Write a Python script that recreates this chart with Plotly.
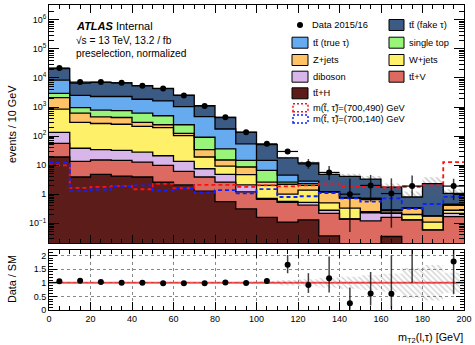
import numpy as np
import plotly.graph_objects as go

# ---------------- data ----------------
bin_edges = list(range(0, 210, 10))            # m_T2 bins, GeV
bin_centers = [e + 5 for e in bin_edges[:-1]]

# per-process yields (events / 10 GeV), stacked bottom -> top
ttH      = [19, 3.9, 4.8, 4.2, 3.9, 2.6, 2.1, 1.27, 0.55, 0.31, 0.16, 0.11, 0.13, 0.037, 0.01, 0.01, 0.035, 0.005, 0.005, 0.005]
ttV      = [37, 9.5, 10.2, 10.3, 8.8, 7.2, 4.0, 2.63, 2.05, 0.89, 0.50, 0.41, 0.29, 0.183, 0.13, 0.11, 0.125, 0.125, 0.054, 0.165]
diboson  = [78, 24.6, 19, 17.5, 15.3, 11.2, 7.3, 3.6, 2.2, 0.9, 0.06, 0.04, 0.10, 0.06, 0.0, 0.11, 0.06, 0.0, 0.0, 0.05]
wjets    = [706, 257, 236, 223, 187, 174, 89.6, 11.5, 4.5, 2.6, 1.28, 0.44, 0.85, 0.22, 0.19, 0.02, 0.02, 0.07, 0.051, 0.06]
zjets    = [1260, 325, 190, 180, 80, 50, 21, 15, 5.7, 3.9, 0.6, 1.2, 0.63, 0.7, 0.42, 0.40, 0.04, 0.13, 0.07, 0.14]
singletop= [850, 330, 320, 315, 325, 255, 121, 57, 21, 5.9, 4.0, 0.4, 0.3, 0.0, 0.0, 0.06, 0.0, 0.0, 0.0, 0.0]
tt_true  = [5450, 1550, 1520, 1550, 1230, 1120, 785, 379, 139, 39.5, 7.9, 1.9, 0.5, 0.0, 0.0, 0.0, 0.0, 0.0, 0.0, 0.03]
tt_fake  = [12400, 4200, 4700, 4500, 3550, 2770, 1520, 640, 260, 81, 36.5, 13.3, 9.2, 3.6, 3.35, 2.59, 1.47, 0.47, 2.12, 0.62]

# relative MC statistical uncertainty
mc_rel_unc = [0.01, 0.01, 0.01, 0.01, 0.01, 0.015, 0.015, 0.02, 0.03, 0.04, 0.06, 0.10, 0.13, 0.18, 0.22, 0.27, 0.33, 0.55, 0.65, 0.37]

# data
data        = [22000, 7200, 7200, 6800, 5400, 4300, 2500, 1090, 440, 134, 54, 29.5, 11, 5.6, 1.0, 2.0, 1.05, 1.9, None, 1.9]
data_err_up = [150, 85, 85, 85, 78, 66, 50, 33, 21, 7, 5, 6.4, 5.2, 3.8, 2.4, 2.6, 2.45, 2.5, None, 1.5]
data_err_dn = [150, 85, 85, 85, 78, 66, 50, 33, 21, 7, 5, 5.5, 3.5, 2.5, 0.95, 1.45, 0.98, 1.1, None, 1.28]

# signal benchmarks
sig_700_490 = [9.8, 1.64, 1.77, 1.9, 1.48, 2.25, 1.6, 2.1, 2.1, 1.77, 2.0, 1.87, 2.0, 2.3, 1.87, 1.8, 1.7, 1.8, 2.0, 12.7]
sig_700_140 = [12, 1.27, 1.45, 1.9, 2.0, 1.34, 1.6, 1.14, 1.37, 1.06, 1.5, 0.8, 0.85, 1.1, 0.72, 0.55, 0.72, 0.31, 0.46, 0.81]

y_tick_vals = [1e-1, 1, 10, 1e2, 1e3, 1e4, 1e5, 1e6]
y_tick_text = ["10<sup>−1</sup>", "1", "10", "10<sup>2</sup>", "10<sup>3</sup>", "10<sup>4</sup>", "10<sup>5</sup>", "10<sup>6</sup>"]
ratio_tick_vals = [0, 0.5, 1, 1.5, 2]
ratio_tick_text = ["0", "0.5", "1", "1.5", "2"]

samples = [
    ("t\u0074\u0304+H", ttH, "#5B1C1A"),
    ("t\u0074\u0304+V", ttV, "#DC6A60"),
    ("diboson", diboson, "#D8B6EA"),
    ("W+jets", wjets, "#FFF06A"),
    ("Z+jets", zjets, "#FFC266"),
    ("single top", singletop, "#99F57A"),
    ("t\u0074\u0304 (true \u03c4)", tt_true, "#66AAF0"),
    ("t\u0074\u0304 (fake \u03c4)", tt_fake, "#3C5B84"),
]

FONT = "Liberation Sans, Arial, sans-serif"
YMIN_LOG, YMAX_LOG = -1.68, 6.51

def step(vals):
    v = [np.nan if x is None else x for x in vals]
    return list(v) + [v[-1]]

fig = go.Figure()

# ---------------- stacked fills ----------------
cum = np.zeros(len(bin_centers))
floor = 10 ** (YMIN_LOG - 1)
fig.add_trace(go.Scatter(x=bin_edges, y=step([floor] * len(bin_centers)), mode="lines",
                         line=dict(width=0, shape="hv"), showlegend=False, hoverinfo="skip",
                         xaxis="x", yaxis="y"))
cum_levels = []
for name, vals, col in samples:
    cum = cum + np.array(vals, dtype=float)
    cum_levels.append(cum.copy())
    fig.add_trace(go.Scatter(x=bin_edges, y=step(list(cum)), mode="lines",
                             line=dict(width=0, shape="hv"), fill="tonexty", fillcolor=col,
                             showlegend=False, hoverinfo="skip", xaxis="x", yaxis="y"))
total = cum_levels[-1]

# MC stat band (hatched) on top of stack
unc = np.array(mc_rel_unc)
fig.add_trace(go.Scatter(x=bin_edges, y=step(list(total * (1 - unc))), mode="lines",
                         line=dict(width=0, shape="hv"), showlegend=False, hoverinfo="skip",
                         xaxis="x", yaxis="y"))
fig.add_trace(go.Scatter(x=bin_edges, y=step(list(total * (1 + unc))), mode="lines",
                         line=dict(width=0, shape="hv"), fill="tonexty",
                         fillcolor="rgba(150,150,150,0.35)",
                         fillpattern=dict(shape="\\", fgcolor="rgba(90,90,90,0.8)", bgcolor="rgba(0,0,0,0)", size=4, solidity=0.3),
                         showlegend=False, hoverinfo="skip", xaxis="x", yaxis="y"))

# step outlines
for lev in cum_levels:
    fig.add_trace(go.Scatter(x=bin_edges, y=step(list(lev)), mode="lines",
                             line=dict(width=1.3, color="black", shape="hv"),
                             showlegend=False, hoverinfo="skip", xaxis="x", yaxis="y"))

# signals
fig.add_trace(go.Scatter(x=bin_edges, y=step(sig_700_490), mode="lines",
                         line=dict(width=1.8, color="#FF1010", shape="hv", dash="4px,3px"),
                         showlegend=False, hoverinfo="skip", xaxis="x", yaxis="y"))
fig.add_trace(go.Scatter(x=bin_edges, y=step(sig_700_140), mode="lines",
                         line=dict(width=1.8, color="#1020FF", shape="hv", dash="4px,3px"),
                         showlegend=False, hoverinfo="skip", xaxis="x", yaxis="y"))

# data
fig.add_trace(go.Scatter(x=bin_centers, y=data, mode="markers",
                         marker=dict(color="black", size=6),
                         error_y=dict(type="data", symmetric=False, array=data_err_up, arrayminus=data_err_dn,
                                      color="rgba(0,0,0,0.75)", thickness=1.5, width=0),
                         error_x=dict(type="constant", value=5, color="black", thickness=1.2, width=0),
                         showlegend=False, hoverinfo="skip", xaxis="x", yaxis="y"))

# ---------------- ratio panel ----------------
fig.add_trace(go.Scatter(x=bin_edges, y=step(list(1 - unc)), mode="lines",
                         line=dict(width=0, shape="hv"), showlegend=False, hoverinfo="skip",
                         xaxis="x2", yaxis="y2"))
fig.add_trace(go.Scatter(x=bin_edges, y=step(list(1 + unc)), mode="lines",
                         line=dict(width=0, shape="hv"), fill="tonexty",
                         fillcolor="rgba(190,190,190,0.55)",
                         fillpattern=dict(shape="\\", fgcolor="rgba(110,110,110,0.7)", bgcolor="rgba(0,0,0,0)", size=4, solidity=0.3),
                         showlegend=False, hoverinfo="skip", xaxis="x2", yaxis="y2"))
fig.add_trace(go.Scatter(x=[bin_edges[0], bin_edges[-1]], y=[1, 1], mode="lines",
                         line=dict(width=2, color="rgba(240,40,40,0.8)"),
                         showlegend=False, hoverinfo="skip", xaxis="x2", yaxis="y2"))
ratio = [None if d is None else d / t for d, t in zip(data, total)]
r_up = [None if e is None else e / t for e, t in zip(data_err_up, total)]
r_dn = [None if e is None else e / t for e, t in zip(data_err_dn, total)]
fig.add_trace(go.Scatter(x=bin_centers, y=ratio, mode="markers",
                         marker=dict(color="black", size=6),
                         error_y=dict(type="data", symmetric=False, array=r_up, arrayminus=r_dn,
                                      color="rgba(0,0,0,0.75)", thickness=1.5, width=0),
                         showlegend=False, hoverinfo="skip", xaxis="x2", yaxis="y2"))

# ---------------- layout ----------------
W, H = 475, 345
ML, MR, MT, MB = 49, 11, 5, 35
PW, PH = W - ML - MR, H - MT - MB

def px_x(px):
    return (px - ML) / PW

def px_y(py):
    return (H - MB - py) / PH

minor_log = [k * 10.0 ** n for n in range(-2, 7) for k in range(2, 10)]

axis_common = dict(showline=True, linecolor="black", linewidth=1, mirror="allticks",
                   ticks="inside", tickcolor="black", zeroline=False, showgrid=False,
                   automargin=False,
                   tickfont=dict(family=FONT, size=9, color="black"))

fig.update_layout(
    width=W, height=H,
    margin=dict(l=ML, r=MR, t=MT, b=MB, autoexpand=False),
    paper_bgcolor="white", plot_bgcolor="white",
    font=dict(family=FONT, color="black"),
    showlegend=False,
    xaxis=dict(**axis_common, domain=[0, 1], anchor="y", range=[0, 200], dtick=20, ticklen=8,
               showticklabels=False, minor=dict(ticks="inside", dtick=5, ticklen=4, tickcolor="black")),
    yaxis=dict(**axis_common, domain=[px_y(243), 1], anchor="x", type="log",
               range=[YMIN_LOG, YMAX_LOG], tickvals=y_tick_vals, ticktext=y_tick_text, ticklen=10,
               minor=dict(ticks="inside", tickvals=minor_log, ticklen=5, tickcolor="black")),
    xaxis2=dict(**{**axis_common, "showgrid": True}, domain=[0, 1], anchor="y2", range=[0, 200],
                dtick=20, ticklen=8, griddash="dot", gridcolor="#888", gridwidth=1,
                minor=dict(ticks="inside", dtick=5, ticklen=4, tickcolor="black")),
    yaxis2=dict(**{**axis_common, "showgrid": True}, domain=[0, px_y(250)], anchor="x2",
                range=[0, 2.2], tickvals=ratio_tick_vals, ticktext=ratio_tick_text, ticklen=8,
                griddash="dot", gridcolor="#888", gridwidth=1,
                minor=dict(ticks="inside", dtick=0.1, ticklen=4, tickcolor="black")),
)

ann = []
shapes = []

def text(px, py, s, size=9.3, xanchor="left", angle=0):
    ann.append(dict(x=px_x(px), y=px_y(py), xref="paper", yref="paper", text=s, showarrow=False,
                    xanchor=xanchor, yanchor="middle", textangle=angle,
                    font=dict(family=FONT, size=size, color="black")))

# ATLAS label
text(74, 26, "<b><i>ATLAS</i></b> Internal", size=11)
text(74, 40, "\u221as = 13 TeV, 13.2 / fb", size=10.2)
text(74, 53, "preselection, normalized", size=10.2)

# axis titles
text(12, 124, "events / 10 GeV", size=10.8, xanchor="center", angle=-90)
text(12, 279, "Data / SM", size=10.8, xanchor="center", angle=-90)
text(465, 338, "m<sub>T2</sub>(l,\u03c4) [GeV]", size=10.8, xanchor="right")

# legend
shapes.append(dict(type="circle", xref="paper", yref="paper",
                   x0=px_x(297), x1=px_x(303), y0=px_y(28), y1=px_y(22),
                   fillcolor="black", line=dict(width=0)))
text(310, 25, "Data 2015/16")

leg_entries = [
    (1, 0, 7), (0, 1, 6), (1, 1, 5), (0, 2, 4), (1, 2, 3), (0, 3, 2), (1, 3, 1), (0, 4, 0),
]
row_y = [25, 42.7, 60, 76.7, 93.3]
col_box = [(292, 308), (389, 404)]
col_txt = [311, 407]
for col, row, idx in leg_entries:
    name, _, color = samples[idx]
    yc = row_y[row]
    x0, x1 = col_box[col]
    shapes.append(dict(type="rect", xref="paper", yref="paper",
                       x0=px_x(x0), x1=px_x(x1), y0=px_y(yc + 5.5), y1=px_y(yc - 5.5),
                       fillcolor=color, line=dict(color="black", width=1)))
    text(col_txt[col], yc, name)

for yc, color, label in [(107.7, "#FF1010", "m(t\u0303, \u03c4\u0303)=(700,490) GeV"),
                         (119, "#1020FF", "m(t\u0303, \u03c4\u0303)=(700,140) GeV")]:
    shapes.append(dict(type="rect", xref="paper", yref="paper",
                       x0=px_x(293), x1=px_x(308), y0=px_y(yc + 4), y1=px_y(yc - 4),
                       fillcolor="white", line=dict(color=color, width=1.5, dash="2px,2px")))
    text(311, yc, label)

fig.update_layout(annotations=ann, shapes=shapes)
fig.write_html("out.html", config={"displayModeBar": False},
               post_script="document.body.style.margin='0px';")
